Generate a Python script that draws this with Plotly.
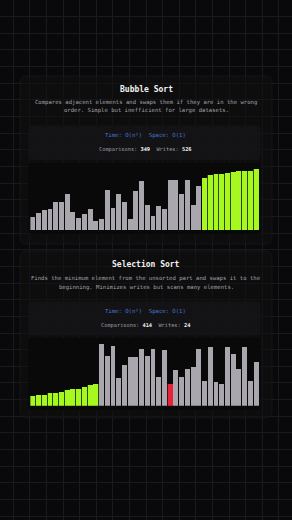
import plotly.graph_objects as go

W, H = 292, 520

# ---- data ----
bar_index = list(range(40))
bubble_values = [21, 27, 32, 35, 45, 45, 59, 30, 19, 26, 34, 15, 18, 65, 36, 58, 45, 18, 63, 80,
                 41, 23, 39, 35, 81, 81, 59, 81, 40, 71, 84, 90, 92, 92, 93, 95, 96, 96, 97, 100]
bubble_sorted_from = 30          # last 10 bars are in final position
selection_values = [15, 18, 18, 20, 21, 23, 25, 27, 28, 30, 34, 35,
                    100, 81, 97, 45, 66, 79, 80, 92, 81, 92, 46, 90, 36, 58, 46, 59, 63, 93,
                    41, 96, 38, 35, 96, 85, 59, 95, 41, 71]
selection_sorted_upto = 12       # first 12 bars are in final position
selection_current = 24           # current minimum candidate

bubble_title = "Bubble Sort"
bubble_desc = ["Compares adjacent elements and swaps them if they are in the wrong",
               "order. Simple but inefficient for large datasets."]
bubble_stats = {"comparisons": 349, "writes": 526}
selection_title = "Selection Sort"
selection_desc = ["Finds the minimum element from the unsorted part and swaps it to the",
                  "beginning. Minimizes writes but scans many elements."]
selection_stats = {"comparisons": 414, "writes": 24}
complexity = "Time: O(n²)  Space: O(1)"

# ---- style ----
BG = "#09090b"
GRID = "#19191e"
CARD = "rgba(16,16,19,0.55)"
CARD_LINE = "rgba(40,40,48,0.35)"
STATS = "rgba(20,20,23,0.9)"
CHART_BG = "#09090a"
GRAY = "#a9a7ad"
GREEN = "#a6f81e"
RED = "#e5243b"
BLUE = "#4479d0"
FONT = "DejaVu Sans Mono"


def rrect(x0, y0, x1, y1, r):
    return (f"M{x0+r},{y0} L{x1-r},{y0} Q{x1},{y0} {x1},{y0+r} L{x1},{y1-r} Q{x1},{y1} {x1-r},{y1} "
            f"L{x0+r},{y1} Q{x0},{y1} {x0},{y1-r} L{x0},{y0+r} Q{x0},{y0} {x0+r},{y0} Z")


fig = go.Figure()

b_colors = [GREEN if i >= bubble_sorted_from else GRAY for i in bar_index]
b_glow = ["rgba(166,248,30,0.25)" if i >= bubble_sorted_from else "rgba(0,0,0,0)" for i in bar_index]
s_colors = [GREEN if i < selection_sorted_upto else (RED if i == selection_current else GRAY)
            for i in bar_index]
s_glow = ["rgba(166,248,30,0.25)" if i < selection_sorted_upto else
          ("rgba(229,36,59,0.3)" if i == selection_current else "rgba(0,0,0,0)") for i in bar_index]

for xa, ya, vals, cols, glow in [("x2", "y2", bubble_values, b_colors, b_glow),
                                 ("x3", "y3", selection_values, s_colors, s_glow)]:
    fig.add_trace(go.Bar(x=bar_index, y=vals, xaxis=xa, yaxis=ya, width=1.0,
                         marker=dict(color=glow, line=dict(width=0)),
                         hoverinfo="skip", showlegend=False))
    fig.add_trace(go.Bar(x=bar_index, y=vals, xaxis=xa, yaxis=ya, width=0.86,
                         marker=dict(color=cols, line=dict(width=0)),
                         hoverinfo="skip", showlegend=False))

shapes = []
annotations = []

cards = [
    dict(card=(20, 76, 272, 244), stats=(28.5, 125.5, 260.5, 160), chart=(28.5, 163, 260.5, 234),
         title=bubble_title, ty=89, desc=bubble_desc, dy=(102.3, 110.6), time_y=135.7, comp_y=149.7,
         st=bubble_stats),
    dict(card=(20, 251, 272, 418), stats=(28.5, 301.5, 260.5, 335.5), chart=(28.5, 338, 260.5, 410),
         title=selection_title, ty=264.3, desc=selection_desc, dy=(278.2, 287), time_y=311.3,
         comp_y=325.3, st=selection_stats),
]
for c in cards:
    shapes.append(dict(type="path", path=rrect(*c["card"], 7), xref="x", yref="y",
                       fillcolor=CARD, line=dict(color=CARD_LINE, width=1), layer="between"))
    shapes.append(dict(type="path", path=rrect(*c["stats"], 4), xref="x", yref="y",
                       fillcolor=STATS, line=dict(width=0), layer="between"))
    shapes.append(dict(type="path", path=rrect(*c["chart"], 3), xref="x", yref="y",
                       fillcolor=CHART_BG, line=dict(width=0), layer="between"))
    annotations.append(dict(x=146, y=c["ty"], xref="x", yref="y", text=f"<b>{c['title']}</b>",
                            showarrow=False, font=dict(family=FONT, size=8, color="#f2f2f2"),
                            xanchor="center", yanchor="middle"))
    for line, yy in zip(c["desc"], c["dy"]):
        annotations.append(dict(x=146, y=yy, xref="x", yref="y", text=line, showarrow=False,
                                font=dict(family=FONT, size=5.6, color="#a2a2a8"),
                                xanchor="center", yanchor="middle"))
    annotations.append(dict(x=145, y=c["time_y"], xref="x", yref="y", text=complexity, showarrow=False,
                            font=dict(family=FONT, size=5.6, color=BLUE),
                            xanchor="center", yanchor="middle"))
    comp_text = (f"Comparisons: <b><span style='color:#f2f2f2'>{c['st']['comparisons']}</span></b>"
                 f"  Writes: <b><span style='color:#f2f2f2'>{c['st']['writes']}</span></b>")
    annotations.append(dict(x=145, y=c["comp_y"], xref="x", yref="y", text=comp_text, showarrow=False,
                            font=dict(family=FONT, size=5.3, color="#9c9ca2"),
                            xanchor="center", yanchor="middle"))

xdom = [30.4 / W, 259.3 / W]
fig.update_layout(
    width=W, height=H, margin=dict(l=0, r=0, t=0, b=0),
    paper_bgcolor=BG, plot_bgcolor="rgba(0,0,0,0)",
    barmode="overlay", bargap=0, showlegend=False,
    xaxis=dict(domain=[0, 1], range=[0, W], showgrid=True, gridcolor=GRID, gridwidth=1,
               tick0=13.3, dtick=16.6, showticklabels=False, zeroline=False, ticks="", fixedrange=True),
    yaxis=dict(domain=[0, 1], range=[H, 0], showgrid=True, gridcolor=GRID, gridwidth=1,
               tick0=0, dtick=16.65, showticklabels=False, zeroline=False, ticks="", fixedrange=True),
    xaxis2=dict(domain=xdom, range=[-0.5, 39.5], visible=False, anchor="y2"),
    yaxis2=dict(domain=[1 - 230 / H, 1 - 165 / H], range=[0, 106], visible=False, anchor="x2"),
    xaxis3=dict(domain=xdom, range=[-0.5, 39.5], visible=False, anchor="y3"),
    yaxis3=dict(domain=[1 - 405.7 / H, 1 - 340 / H], range=[0, 107], visible=False, anchor="x3"),
    shapes=shapes, annotations=annotations,
)

fig.write_html("out.html", config={"displayModeBar": False})
